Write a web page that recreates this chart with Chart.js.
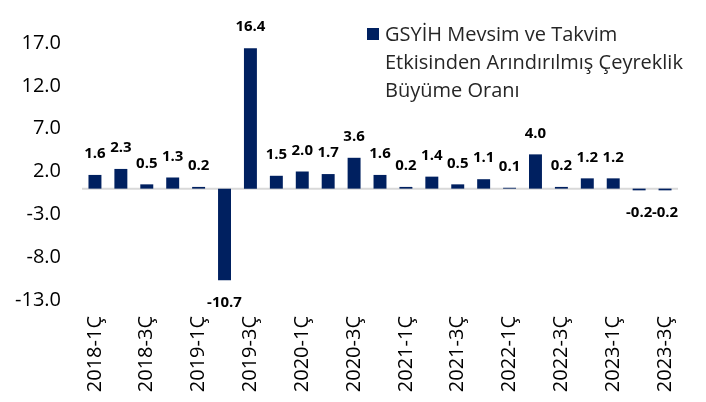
<!DOCTYPE html>
<html>
<head>
<meta charset="utf-8">
<script src="https://cdn.jsdelivr.net/npm/chart.js@4"></script>
<style>
body{margin:0;background:#fff}
#kutu{width:706px;height:402px;position:relative}
</style>
</head>
<body>
<div id="kutu"><canvas id="grafik"></canvas></div>
<script>
var donemler = ["2018-1Ç","2018-2Ç","2018-3Ç","2018-4Ç","2019-1Ç","2019-2Ç","2019-3Ç","2019-4Ç",
	"2020-1Ç","2020-2Ç","2020-3Ç","2020-4Ç","2021-1Ç","2021-2Ç","2021-3Ç","2021-4Ç",
	"2022-1Ç","2022-2Ç","2022-3Ç","2022-4Ç","2023-1Ç","2023-2Ç","2023-3Ç"]
var buyume = [1.6, 2.3, 0.5, 1.3, 0.2, -10.7, 16.4, 1.5, 2.0, 1.7, 3.6, 1.6, 0.2, 1.4, 0.5, 1.1, 0.1, 4.0, 0.2, 1.2, 1.2, -0.2, -0.2]
var seriAdi = ["GSYİH Mevsim ve Takvim", "Etkisinden Arındırılmış Çeyreklik", "Büyüme Oranı"]
var yMin = -13, yMax = 17, yAdim = 5
var lacivert = "#002060"

// sifir cizgisi
var sifirCizgi = {
	id: "sifirCizgi",
	beforeDatasetsDraw: function(c){
		var ctx = c.ctx
		var y = c.scales.y.getPixelForValue(0)
		ctx.save()
		ctx.strokeStyle = "#d9d9d9"
		ctx.lineWidth = 2
		ctx.beginPath()
		ctx.moveTo(c.chartArea.left, y)
		ctx.lineTo(c.chartArea.right, y)
		ctx.stroke()
		ctx.restore()
	}
}

// cubuk ustu degerler
var degerYaz = {
	id: "degerYaz",
	afterDatasetsDraw: function(c){
		var ctx = c.ctx
		var meta = c.getDatasetMeta(0)
		ctx.save()
		ctx.font = "bold 15px 'Open Sans'"
		ctx.fillStyle = "#000"
		ctx.textAlign = "center"
		ctx.textBaseline = "middle"
		for(var i=0;i<meta.data.length;i++){
			var el = meta.data[i]
			var v = buyume[i]
			var y = v >= 0 ? el.y - 21 : el.y + 22
			ctx.fillText(v.toFixed(1), el.x, y)
		}
		ctx.restore()
	}
}

// lejant (cok satirli)
var lejant = {
	id: "lejant",
	afterDraw: function(c){
		var ctx = c.ctx
		ctx.save()
		ctx.fillStyle = lacivert
		ctx.fillRect(367, 28, 12, 12)
		ctx.font = "20px 'Open Sans'"
		ctx.fillStyle = "#262626"
		ctx.textAlign = "left"
		ctx.textBaseline = "middle"
		for(var i=0;i<seriAdi.length;i++){
			ctx.fillText(seriAdi[i], 385, 35 + i*28)
		}
		ctx.restore()
	}
}

new Chart("grafik", {
	type: "bar",
	data: {
		labels: donemler,
		datasets: [{
			label: seriAdi.join(" "),
			data: buyume,
			backgroundColor: lacivert,
			categoryPercentage: 1,
			barPercentage: 0.5
		}]
	},
	options: {
		responsive: true,
		maintainAspectRatio: false,
		animation: false,
		layout: {padding: {top: 43, right: 28, left: 0, bottom: 0}},
		plugins: {legend: {display: false}, tooltip: {enabled: false}},
		scales: {
			x: {
				grid: {display: false, drawTicks: false},
				border: {display: false},
				ticks: {
					autoSkip: false,
					minRotation: 90,
					maxRotation: 90,
					padding: 16,
					color: "#000",
					font: {family: "'Open Sans'", size: 20},
					callback: function(v, i){ return i % 2 === 0 ? donemler[i] : "" }
				},
				afterFit: function(s){ s.height = 102 }
			},
			y: {
				min: yMin,
				max: yMax,
				grid: {display: false, drawTicks: false},
				border: {display: false},
				ticks: {
					stepSize: yAdim,
					padding: 21,
					color: "#000",
					font: {family: "'Open Sans'", size: 20},
					callback: function(v){ return v.toFixed(1) }
				},
				afterFit: function(s){ s.width = 82 }
			}
		}
	},
	plugins: [sifirCizgi, degerYaz, lejant]
})
</script>
</body>
</html>
